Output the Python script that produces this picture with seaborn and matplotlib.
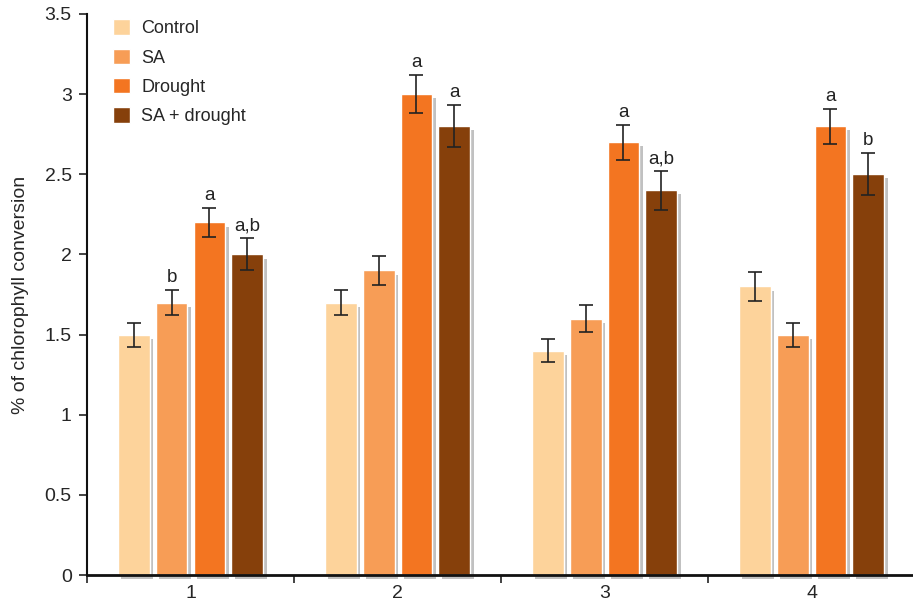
import numpy as np
import pandas as pd
import matplotlib
matplotlib.use("Agg")
import matplotlib.pyplot as plt
import matplotlib.patheffects as pe
import seaborn as sns

# Chlorophyll conversion per sampling point and treatment
groups = ["1", "2", "3", "4"]
treatments = ["Control", "SA", "Drought", "SA + drought"]
control = [1.5, 1.7, 1.4, 1.8]
sa = [1.7, 1.9, 1.6, 1.5]
drought = [2.2, 3.0, 2.7, 2.8]
sa_drought = [2.0, 2.8, 2.4, 2.5]

control_err = [0.075, 0.08, 0.07, 0.09]
sa_err = [0.08, 0.09, 0.085, 0.075]
drought_err = [0.09, 0.12, 0.11, 0.11]
sa_drought_err = [0.10, 0.13, 0.12, 0.13]

# Significance letters (empty string = no letter)
control_sig = ["", "", "", ""]
sa_sig = ["b", "", "", ""]
drought_sig = ["a", "a", "a", "a"]
sa_drought_sig = ["a,b", "a", "a,b", "b"]

colors = ["#FDD39B", "#F79D56", "#F37521", "#86400B"]

values = [control, sa, drought, sa_drought]
errors = [control_err, sa_err, drought_err, sa_drought_err]
sigs = [control_sig, sa_sig, drought_sig, sa_drought_sig]

df = pd.DataFrame({
    "group": np.tile(groups, len(treatments)),
    "treatment": np.repeat(treatments, len(groups)),
    "value": np.concatenate(values),
})

sns.set_style("white")
plt.rcParams["font.family"] = ["Liberation Sans", "DejaVu Sans"]

fig = plt.figure(figsize=(9.13, 6.11), dpi=100)
ax = fig.add_axes([87 / 913, 1 - 575 / 611, 1 - 87 / 913, (575 - 14) / 611])

sns.barplot(data=df, x="group", y="value", hue="treatment", order=groups,
            hue_order=treatments, palette=colors, saturation=1,
            width=0.73, gap=0.16, errorbar=None, ax=ax, zorder=3)

shadow = [pe.SimplePatchShadow(offset=(2.5, -3), shadow_rgbFace="#666666", alpha=0.4),
          pe.Normal()]

for cont, errs, labels in zip(ax.containers, errors, sigs):
    xs, ys = [], []
    for bar in cont:
        bar.set_path_effects(shadow)
        bar.set_clip_on(False)
        xs.append(bar.get_x() + bar.get_width() / 2)
        ys.append(bar.get_height())
    ax.errorbar(xs, ys, yerr=errs, fmt="none", ecolor="#222222",
                elinewidth=1.2, capsize=5, capthick=1.2, zorder=4)
    for x, y, e, lab in zip(xs, ys, errs, labels):
        if lab:
            ax.text(x, y + e + 0.025, lab, ha="center", va="bottom",
                    fontsize=13.5, color="#222222")

ax.set_ylim(0, 3.5)
ax.set_xlim(-0.5, 3.49)
ax.set_yticks(np.arange(0, 3.51, 0.5))
ax.set_yticklabels(["0", "0.5", "1", "1.5", "2", "2.5", "3", "3.5"], fontsize=14)

# Group boundaries carry the tick marks, labels sit at group centres
ax.set_xticks([-0.5, 0.5, 1.5, 2.5])
ax.set_xticklabels([])
ax.set_xticks(range(len(groups)), minor=True)
ax.set_xticklabels(groups, minor=True, fontsize=14)
ax.tick_params(axis="x", which="major", direction="out", length=6, width=1.2,
               bottom=True, color="#222222")
ax.tick_params(axis="x", which="minor", length=0, pad=7)
ax.tick_params(axis="y", direction="out", length=6, width=1.2, left=True,
               color="#222222", pad=5)

ax.set_xlabel("")
ax.set_ylabel("% of chlorophyll conversion", fontsize=14, labelpad=11)

for s in ["top", "right"]:
    ax.spines[s].set_visible(False)
ax.spines["left"].set_linewidth(1.5)
ax.spines["bottom"].set_linewidth(2)
ax.spines["left"].set_color("#111111")
ax.spines["bottom"].set_color("#111111")
ax.spines["bottom"].set_zorder(5)

handles, labels = ax.get_legend_handles_labels()
ax.legend(handles, labels, loc="upper left", bbox_to_anchor=(0.025, 1.0),
          frameon=False, fontsize=13, handlelength=0.95, handleheight=0.95,
          labelspacing=0.62, handletextpad=0.6, borderaxespad=0.0,
          borderpad=0.3)

fig.savefig("out.png", dpi=100)
